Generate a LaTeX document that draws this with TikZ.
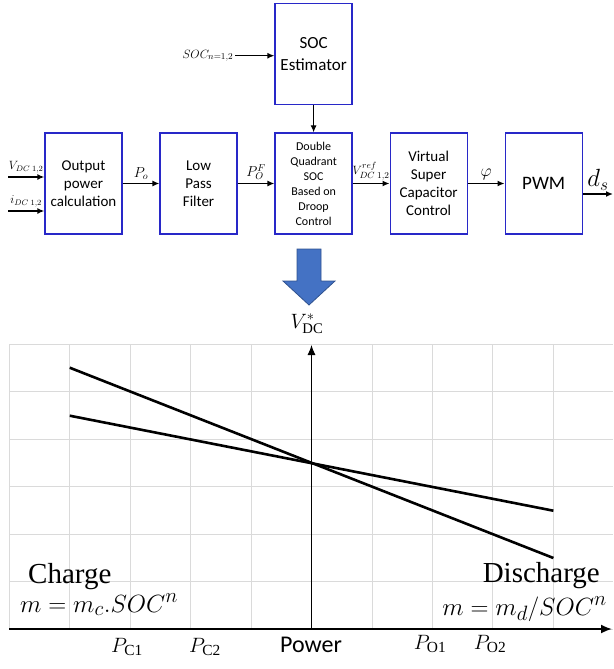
\documentclass[tikz,border=0pt]{standalone}
\usepackage{fontspec}
\setmainfont{Liberation Serif}
\newfontfamily\calibri{Carlito}
\usetikzlibrary{positioning,arrows.meta}
\definecolor{boxblue}{RGB}{40,40,200}
\definecolor{bigfill}{RGB}{68,114,196}
\definecolor{bigline}{RGB}{47,82,143}
\definecolor{gridgray}{RGB}{218,218,218}

\begin{document}
\begin{tikzpicture}[x=1pt,y=-1pt,
  blk/.style={draw=boxblue,line width=1.3pt,minimum width=77pt,minimum height=101pt,
    inner sep=0pt,align=center,font=\calibri\fontsize{15}{18}\selectfont},
  arr/.style={-{Latex[length=7pt,width=6pt]},line width=1.4pt},
  lbl/.style={above,inner sep=3pt},
  gridline/.style={gridgray,line width=1pt},
  droop/.style={line width=2.6pt},
  big/.style={font=\fontsize{29}{32}\selectfont,inner sep=0pt}]

\useasboundingbox (0,0) rectangle (613,669);

% block diagram
\node[blk] (out) at (83.5,183.5) {Output\\power\\calculation};
\node[blk,right=36.75pt of out] (lpf) {Low\\Pass\\Filter};
\node[blk,right=36.75pt of lpf,font=\calibri\fontsize{12}{15}\selectfont] (dq)
  {Double\\Quadrant\\SOC\\Based on\\Droop\\Control};
\node[blk,right=36.75pt of dq] (vsc) {Virtual\\Super\\Capacitor\\Control};
\node[blk,right=36.75pt of vsc,font=\calibri\fontsize{19}{22}\selectfont] (pwm) {PWM};
\node[blk,above=27pt of dq,font=\calibri\fontsize{17}{22}\selectfont] (est) {SOC\\Estimator};

\coordinate (vin) at (8,177);
\coordinate (iin) at (8,211);
\coordinate (socin) at (235,55.7);
\coordinate (ds) at (613,194);

\draw[arr] (vin) -- node[lbl,font=\fontsize{12}{14}\selectfont] (vdc) {$V_{DC\;1,2}$} (vin -| out.west);
\draw[arr] (iin) -- node[lbl,font=\fontsize{12}{14}\selectfont] (idc) {$i_{DC\;1,2}$} (iin -| out.west);
\draw[arr] (out) -- node[lbl,font=\fontsize{14}{16}\selectfont] (po) {$P_o$} (lpf);
\draw[arr] (lpf) -- node[lbl,font=\fontsize{14}{16}\selectfont] (pof) {$P_O^F$} (dq);
\draw[arr] (dq) -- node[lbl,font=\fontsize{13}{15}\selectfont] (vref) {$V_{DC\;1,2}^{ref}$} (vsc);
\draw[arr] (vsc) -- node[lbl,font=\fontsize{18}{20}\selectfont] (phi) {$\varphi$} (pwm);
\draw[arr] (pwm.east |- ds) -- node[lbl,font=\fontsize{24}{26}\selectfont] (dsl) {$d_s$} (ds);
\draw[arr] (socin) node[left,inner sep=1pt,font=\fontsize{13}{15}\selectfont] (socl) {$SOC_{n=1,2}$} -- (socin -| est.west);
\draw[arr,line width=1pt] (est) -- (dq);

% big arrow
\draw[fill=bigfill,draw=bigline,line width=0.8pt] (297,249) -- (321,249) -- (321,281)
  -- (335,281) -- (309,305) -- (283,281) -- (297,281) -- cycle;
\node[font=\fontsize{21}{23}\selectfont] (vstar) at (307,324) {$V^{*}_{\mathrm{DC}}$};

% grid
\foreach \i in {0,...,9}
  \draw[gridline] (9.3+60.45*\i,344) -- (9.3+60.45*\i,629);
\foreach \j in {0,...,6}
  \draw[gridline] (9.3,344+47.5*\j) -- (613,344+47.5*\j);

% axes
\coordinate (o) at (311.5,629);
\coordinate (xl) at (9.3,629);
\coordinate (xr) at (612,629);
\coordinate (yt) at (311.5,345);
\draw[-{Latex[length=11pt,width=9pt]},line width=1.8pt] (xl) -- (xr);
\draw[-{Latex[length=10pt,width=8pt]},line width=1pt] (o) -- (yt);

% droop lines
\coordinate (c1) at (69.75,367.7);
\coordinate (c2) at (69.75,415.7);
\coordinate (d1) at (553.4,558);
\coordinate (d2) at (553.4,510.7);
\draw[droop] (c1) -- (d1);
\draw[droop] (c2) -- (d2);

\node[big,anchor=base west] (chg) at (28,583) {Charge};
\node[big,anchor=base east] (dis) at (600,582) {Discharge};
\node[big,anchor=base west] (mc) at (20,612) {$m=m_c.SOC^n$};
\node[big,anchor=base east] (md) at (607,615) {$m=m_d/SOC^n$};

\node[anchor=base,font=\fontsize{22}{24}\selectfont] (pc1) at (127,652) {$P_{\mathrm{C1}}$};
\node[anchor=base,font=\fontsize{22}{24}\selectfont] (pc2) at (205,652) {$P_{\mathrm{C2}}$};
\node[anchor=base,font=\calibri\fontsize{24}{26}\selectfont] (pw) at (311,652) {Power};
\node[anchor=base,font=\fontsize{22}{24}\selectfont] (po1) at (430,649) {$P_{\mathrm{O1}}$};
\node[anchor=base,font=\fontsize{22}{24}\selectfont] (po2) at (490,649) {$P_{\mathrm{O2}}$};
\end{tikzpicture}
\end{document}
